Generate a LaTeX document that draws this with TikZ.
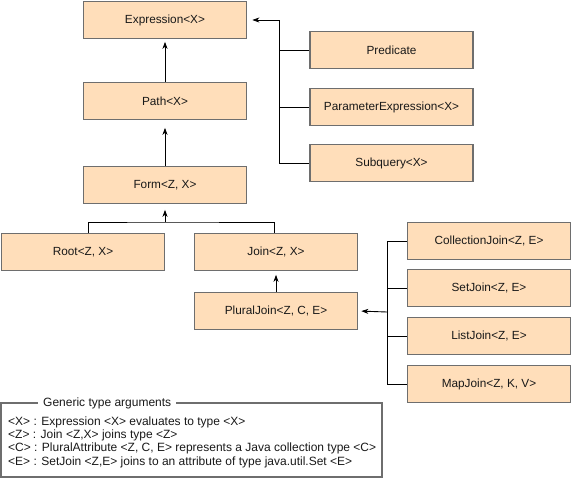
\documentclass[tikz,border=0pt]{standalone}
\usepackage{fontspec}
\setmainfont{Liberation Sans}
\usetikzlibrary{arrows.meta}
\definecolor{boxfill}{RGB}{255,222,186}
\definecolor{boxline}{RGB}{110,110,110}
\definecolor{txt}{RGB}{25,25,25}
\tikzset{
  cls/.style={draw=boxline, line width=1.6pt, fill=boxfill, minimum width=163pt, minimum height=37pt, inner sep=0pt, text=txt, font=\fontsize{11.8}{13}\selectfont},
  conn/.style={draw=black, line width=0.9pt},
  arr/.style={conn, -{Stealth[length=7pt,width=5pt,inset=2pt]}},
  legtxt/.style={anchor=west, inner sep=0pt, text=txt, font=\fontsize{12}{13}\selectfont}
}
\begin{document}
\begin{tikzpicture}[x=1pt,y=-1pt]
\useasboundingbox (0,0) rectangle (572,480);
% main chain
\node[cls] (expr) at (165,20) {Expression<X>};
\node[cls] (path) at (165,101) {Path<X>};
\node[cls] (form) at (165,185) {Form<Z, X>};
% right of expression
\node[cls] (pred) at (391.5,50) {Predicate};
\node[cls] (param) at (391.5,107) {ParameterExpression<X>};
\node[cls] (subq) at (391.5,163) {Subquery<X>};
% below form
\node[cls] (root) at (83,252) {Root<Z, X>};
\node[cls] (join) at (276,252) {Join<Z, X>};
\node[cls] (plural) at (276,311) {PluralJoin<Z, C, E>};
% joins
\node[cls] (coll) at (489,241) {CollectionJoin<Z, E>};
\node[cls] (setj) at (489,288) {SetJoin<Z, E>};
\node[cls] (list) at (489,336) {ListJoin<Z, E>};
\node[cls] (mapj) at (489,384) {MapJoin<Z, K, V>};

% coordinates
\coordinate (ev) at (279,20);
\coordinate (fb) at (165,222);
\coordinate (pv) at (387,312);

% connectors
\draw[arr, shorten >=2.5pt] (path.north) -- (expr.south);
\draw[arr, shorten >=7.5pt] (form.north) -- (path.south);
\draw[arr, shorten >=5pt] (ev) -- (expr.east);
\draw[conn] (ev) |- (subq.west);
\draw[conn] (ev |- pred.west) -- (pred.west);
\draw[conn] (ev |- param.west) -- (param.west);
\draw[conn] (root.north -| 88,0) |- (fb) -| (join.north -| 274,0);
\draw[arr, shorten >=5.5pt] (fb) -- (form.south);
\draw[arr, shorten >=3.5pt] (plural.north) -- (join.south);
\draw[conn] (coll.west -| pv) -- (coll.west);
\draw[conn] (coll.west -| pv) |- (mapj.west);
\draw[conn] (setj.west -| pv) -- (setj.west);
\draw[conn] (list.west -| pv) -- (list.west);
\draw[arr, shorten >=3pt] (pv) -- (plural.east);

% legend
\draw[draw=boxline, line width=1.6pt] (1,403) rectangle (382,477);
\node[inner sep=0pt, fill=white, anchor=west, text=txt, font=\fontsize{12}{13}\selectfont, minimum height=8pt, inner xsep=5pt] (legtitle) at (38,403) {Generic type arguments};
\node[legtxt] (l1) at (8,422) {<X> : Expression <X> evaluates to type <X>};
\node[legtxt] (l2) at (8,435.3) {<Z> : Join <Z,X> joins type <Z>};
\node[legtxt] (l3) at (8,448.6) {<C> : PluralAttribute <Z, C, E> represents a Java collection type <C>};
\node[legtxt] (l4) at (8,462) {<E> : SetJoin <Z,E> joins to an attribute of type java.util.Set <E>};
\end{tikzpicture}
\end{document}
